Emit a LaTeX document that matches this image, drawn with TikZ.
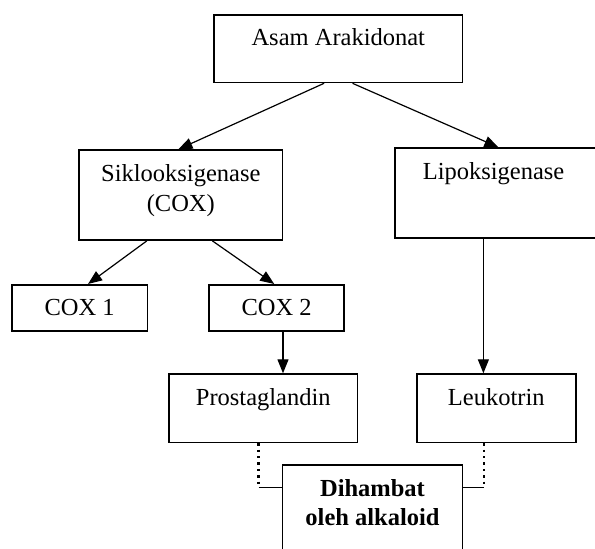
\documentclass[tikz,border=0pt]{standalone}
\usepackage{fontspec}
\setmainfont{Liberation Serif}
\usetikzlibrary{arrows.meta}

\begin{document}
\begin{tikzpicture}[x=0.5pt, y=-0.5pt,
    kotak/.style={draw, line width=0.8pt, inner xsep=0pt, inner ysep=0pt,
        anchor=north west, align=center, font=\fontsize{12.25}{15}\selectfont},
    satu/.style={kotak, text height=15.5pt, text depth=#1},
    panah/.style={-{Triangle[length=7pt, width=5.5pt]}, line width=0.6pt},
    titik/.style={line width=1.2pt, dash pattern=on 1.2pt off 2pt}]
    \useasboundingbox (0,0) rectangle (595,549);

    % boxes
    \node[satu=18.35pt, minimum width=124.2pt] (asam) at (213.3,14) {Asam Arakidonat};
    \node[kotak, minimum width=101.7pt] (siklo) at (78.3,149.3)
        {\rule{0pt}{15.5pt}Siklooksigenase\\(COX)\rule[-14.5pt]{0pt}{14.5pt}};
    \node[satu=29.5pt, align=left, text width=75pt, inner xsep=14pt] (lipo) at (394,147.3) {Lipoksigenase};
    \node[satu=7.5pt, minimum width=67.85pt] (cox1) at (11,284) {COX 1};
    \node[satu=7.5pt, minimum width=67.5pt] (cox2) at (208.3,284) {COX 2};
    \node[satu=18.7pt, minimum width=94.2pt] (prosta) at (168.3,373.3) {Prostaglandin};
    \node[satu=18.7pt, minimum width=79.5pt] (leuko) at (416,373.3) {Leukotrin};
    \node[kotak, minimum width=90pt, font=\fontsize{12.25}{14.5}\selectfont\bfseries] (hambat) at (281.7,464.3)
        {\rule{0pt}{15.5pt}Dihambat\\oleh alkaloid\rule[-40pt]{0pt}{40pt}};

    % arrows
    \draw[panah] ([xshift=-7.1pt]asam.south) -- ([xshift=-1.2pt]siklo.north);
    \draw[panah] ([xshift=7.1pt]asam.south) -- ([xshift=52.2pt]lipo.north west);
    \draw[panah] ([xshift=-17pt]siklo.south) -- ([xshift=4.2pt]cox1.north);
    \draw[panah] ([xshift=15.8pt]siklo.south) -- ([xshift=-1.2pt]cox2.north);
    \draw[panah] ([xshift=3.2pt]cox2.south) -- ([xshift=3.2pt]cox2.south |- prosta.north);
    \draw[panah] ([xshift=44.7pt]lipo.south west) -- ([xshift=44.7pt]lipo.south west |- leuko.north);

    % dotted links to the inhibitor box
    \coordinate (hk) at ([yshift=-11.5pt]hambat.north west);
    \coordinate (hn) at ([yshift=-11.5pt]hambat.north east);
    \draw[titik] ([xshift=-2.4pt]prosta.south) -- ([xshift=-2.4pt]prosta.south |- hk);
    \draw[line width=0.6pt] ([xshift=-2.4pt]prosta.south |- hk) -- (hk);
    \draw[titik] ([xshift=-6.1pt]leuko.south) -- ([xshift=-6.1pt]leuko.south |- hn);
    \draw[line width=0.6pt] ([xshift=-6.1pt]leuko.south |- hn) -- (hn);
\end{tikzpicture}
\end{document}
